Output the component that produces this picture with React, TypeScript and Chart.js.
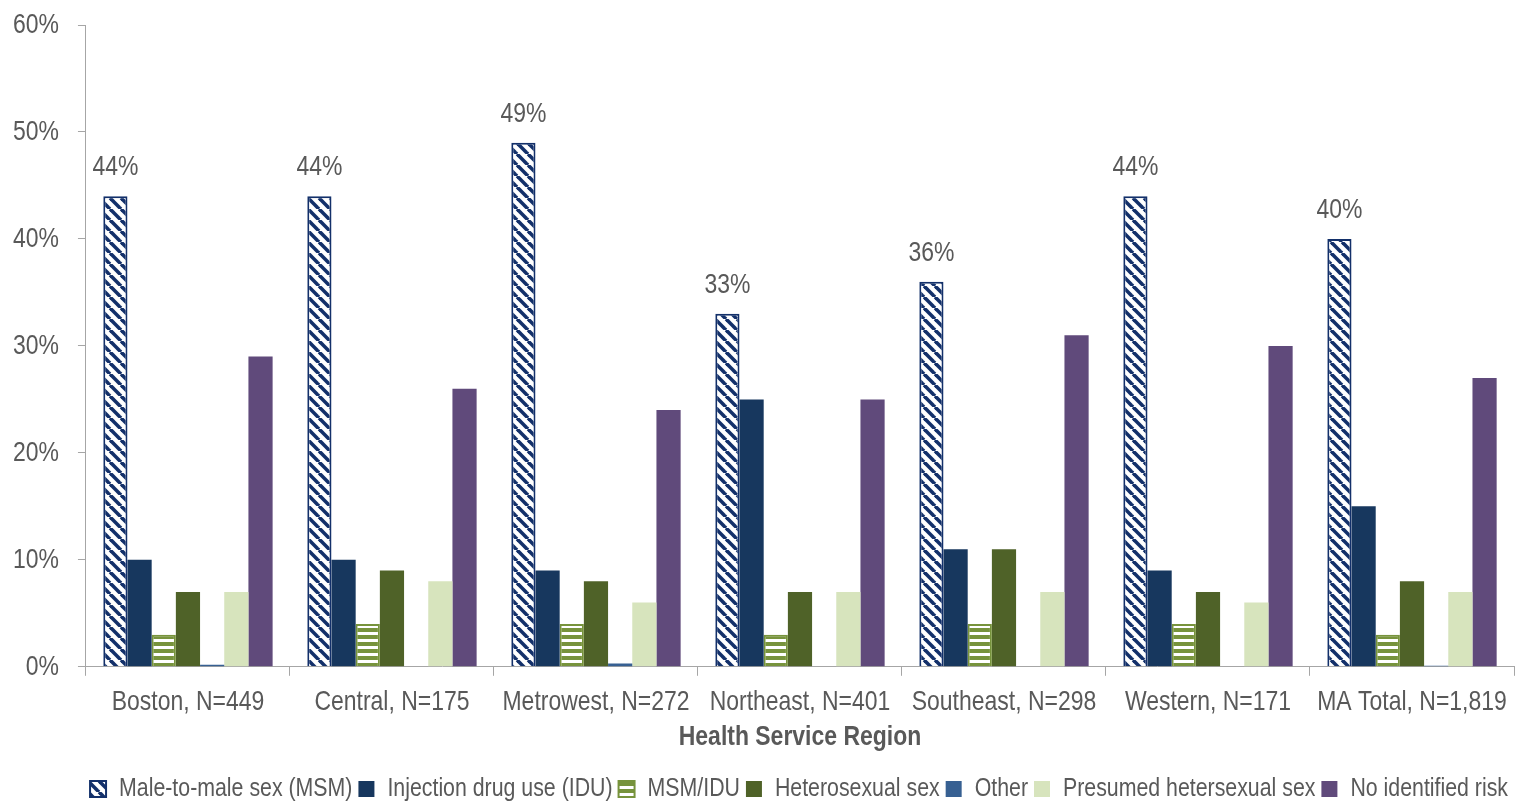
import React, { useEffect, useRef } from "react";
import { Chart, registerables } from "chart.js";

Chart.register(...registerables);

const categories = [
  "Boston, N=449",
  "Central, N=175",
  "Metrowest, N=272",
  "Northeast, N=401",
  "Southeast, N=298",
  "Western, N=171",
  "MA Total, N=1,819",
];

const seriesNames = [
  "Male-to-male sex (MSM)",
  "Injection drug use (IDU)",
  "MSM/IDU",
  "Heterosexual sex",
  "Other",
  "Presumed hetersexual sex",
  "No identified risk",
];

const msm = [44, 44, 49, 33, 36, 44, 40];
const idu = [10, 10, 9, 25, 11, 9, 15];
const msmIdu = [3, 4, 4, 3, 4, 4, 3];
const hetero = [7, 9, 8, 7, 11, 7, 8];
const other = [0.2, 0, 0.3, 0, 0, 0, 0.1];
const presumed = [7, 8, 6, 7, 7, 6, 7];
const noRisk = [29, 26, 24, 25, 31, 30, 27];

const yTicks = [0, 10, 20, 30, 40, 50, 60];

const FONT = "'Liberation Sans', Arial, sans-serif";
const TEXT = "#595959";
const AXIS = "#A6A6A6";
const NARROW = 0.82; // emulate a narrow sans face

function narrowText(ctx: CanvasRenderingContext2D) {
  const origFill = ctx.fillText.bind(ctx);
  const origMeasure = ctx.measureText.bind(ctx);
  (ctx as any).fillText = (text: string, x: number, y: number, maxWidth?: number) => {
    ctx.save();
    ctx.translate(x, y);
    ctx.scale(NARROW, 1);
    if (maxWidth !== undefined) origFill(text, 0, 0, maxWidth / NARROW);
    else origFill(text, 0, 0);
    ctx.restore();
  };
  (ctx as any).measureText = (text: string) => {
    const m = origMeasure(text);
    return {
      width: m.width * NARROW,
      actualBoundingBoxAscent: m.actualBoundingBoxAscent,
      actualBoundingBoxDescent: m.actualBoundingBoxDescent,
      actualBoundingBoxLeft: m.actualBoundingBoxLeft * NARROW,
      actualBoundingBoxRight: m.actualBoundingBoxRight * NARROW,
      fontBoundingBoxAscent: m.fontBoundingBoxAscent,
      fontBoundingBoxDescent: m.fontBoundingBoxDescent,
    };
  };
}

function diagPattern(ctx: CanvasRenderingContext2D, color: string) {
  const c = document.createElement("canvas");
  const s = 11;
  c.width = s;
  c.height = s;
  const g = c.getContext("2d")!;
  g.fillStyle = "#ffffff";
  g.fillRect(0, 0, s, s);
  g.strokeStyle = color;
  g.lineWidth = 3.6;
  for (const off of [-s, 0, s]) {
    g.beginPath();
    g.moveTo(off, 0);
    g.lineTo(off + s, s);
    g.stroke();
  }
  return ctx.createPattern(c, "repeat")!;
}

function hStripePattern(ctx: CanvasRenderingContext2D, color: string) {
  const c = document.createElement("canvas");
  c.width = 7;
  c.height = 7;
  const g = c.getContext("2d")!;
  g.fillStyle = color;
  g.fillRect(0, 0, 7, 7);
  g.fillStyle = "#ffffff";
  g.fillRect(0, 2, 7, 3);
  return ctx.createPattern(c, "repeat")!;
}

const labelPlugin = {
  id: "msmLabels",
  afterDatasetsDraw(chart: any) {
    const ctx = chart.ctx;
    const meta = chart.getDatasetMeta(0);
    ctx.save();
    ctx.font = `28px ${FONT}`;
    ctx.fillStyle = TEXT;
    ctx.textAlign = "center";
    ctx.textBaseline = "alphabetic";
    meta.data.forEach((bar: any, i: number) => {
      ctx.fillText(`${msm[i]}%`, bar.x, bar.y - 21);
    });
    ctx.restore();
  },
};

export default function App() {
  const ref = useRef<HTMLCanvasElement>(null);
  useEffect(() => {
    document.body.style.margin = "0";
    const canvas = ref.current!;
    const ctx = canvas.getContext("2d")!;
    narrowText(ctx);
    const navy = "#13306A";
    const green = "#77933C";
    const chart = new Chart(ctx, {
      type: "bar",
      data: {
        labels: categories,
        datasets: [
          { label: seriesNames[0], data: msm, backgroundColor: diagPattern(ctx, navy), borderColor: navy, borderWidth: 2 },
          { label: seriesNames[1], data: idu, backgroundColor: "#17375E", borderWidth: 0 },
          { label: seriesNames[2], data: msmIdu, backgroundColor: hStripePattern(ctx, green), borderColor: green, borderWidth: 2 },
          { label: seriesNames[3], data: hetero, backgroundColor: "#4F6228", borderWidth: 0 },
          { label: seriesNames[4], data: other, backgroundColor: "#376092", borderWidth: 0 },
          { label: seriesNames[5], data: presumed, backgroundColor: "#D7E4BD", borderWidth: 0 },
          { label: seriesNames[6], data: noRisk, backgroundColor: "#604A7B", borderWidth: 0 },
        ],
      },
      options: {
        responsive: false,
        devicePixelRatio: 1,
        animation: false,
        layout: { padding: { left: -6, top: 0, right: 3, bottom: -9 } },
        datasets: { bar: { categoryPercentage: 0.83, barPercentage: 1 } },
        plugins: {
          tooltip: { enabled: false },
          legend: {
            position: "bottom",
            align: "end",
            labels: {
              font: { family: FONT, size: 26 },
              color: TEXT,
              boxWidth: 16,
              boxHeight: 16,
              padding: 6,
            },
          },
        },
        scales: {
          y: {
            min: 0,
            max: 60,
            afterBuildTicks: (axis: any) => {
              axis.ticks = yTicks.map((v) => ({ value: v }));
            },
            ticks: {
              callback: (v: any) => `${v}%`,
              font: { family: FONT, size: 28, lineHeight: 0.43 },
              color: TEXT,
              padding: 19,
            },
            grid: { drawOnChartArea: false, drawTicks: true, tickLength: 8, color: AXIS },
            border: { color: AXIS, width: 1 },
          },
          x: {
            ticks: {
              font: { family: FONT, size: 28 },
              color: TEXT,
              padding: 10,
              maxRotation: 0,
              autoSkip: false,
            },
            grid: { drawOnChartArea: false, drawTicks: true, tickLength: 9, color: AXIS, offset: true },
            border: { color: AXIS, width: 1 },
            title: {
              display: true,
              text: "Health Service Region",
              font: { family: FONT, size: 28, weight: "bold" },
              color: TEXT,
              padding: { top: -9, bottom: 16 },
            },
          },
        },
      },
      plugins: [labelPlugin],
    });
    return () => chart.destroy();
  }, []);
  return (
    <div style={{ width: 1517, height: 803 }}>
      <canvas ref={ref} width={1517} height={803} style={{ display: "block" }} />
    </div>
  );
}
